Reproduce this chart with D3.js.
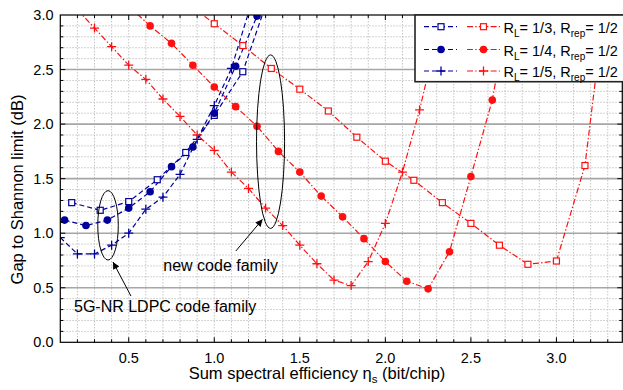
<!DOCTYPE html>
<html lang="en">
<head>
<meta charset="UTF-8">
<title>Gap to Shannon limit</title>
<script src="https://cdn.jsdelivr.net/npm/d3@7"></script>
<style>
    body { margin: 0; background: #fff; }
    #chart svg { display: block; font-family: "Liberation Sans", Arial, sans-serif; }
</style>
</head>
<body>
<div id="chart"></div>
<script>
    // 5G-NR LDPC code family (blue, dashed)
    const nrX13 = [0.1667, 0.3333, 0.5, 0.6667, 0.8333, 1.0, 1.1667, 1.3333];
    const nrY13 = [1.28, 1.21, 1.29, 1.49, 1.74, 2.08, 2.48, 3.24];
    const nrX14 = [0.125, 0.25, 0.375, 0.5, 0.625, 0.75, 0.875, 1.0, 1.125, 1.25, 1.375];
    const nrY14 = [1.12, 1.07, 1.12, 1.23, 1.38, 1.61, 1.79, 2.10, 2.53, 2.99, 3.6];
    const nrX15 = [0.1, 0.2, 0.3, 0.4, 0.5, 0.6, 0.7, 0.8, 0.9, 1.0, 1.1, 1.2, 1.3];
    const nrY15 = [0.96, 0.81, 0.81, 0.89, 1.00, 1.22, 1.33, 1.54, 1.86, 2.17, 2.51, 3.02, 3.8];

    // new code family (red, dash-dot)
    const newX13 = [0.8333, 1.0, 1.1667, 1.3333, 1.5, 1.6667, 1.8333, 2.0, 2.1667, 2.3333,
                    2.5, 2.6667, 2.8333, 3.0, 3.1667, 3.3333];
    const newY13 = [3.12, 2.92, 2.72, 2.51, 2.32, 2.12, 1.88, 1.66, 1.485, 1.28,
                    1.09, 0.89, 0.715, 0.745, 1.62, 3.75];
    const newX14 = [0.5, 0.625, 0.75, 0.875, 1.0, 1.125, 1.25, 1.375, 1.5, 1.625,
                    1.75, 1.875, 2.0, 2.125, 2.25, 2.375, 2.5, 2.625, 2.75];
    const newY14 = [3.08, 2.90, 2.74, 2.54, 2.34, 2.16, 1.98, 1.75, 1.56, 1.34,
                    1.15, 0.95, 0.74, 0.56, 0.49, 0.83, 1.52, 2.22, 3.3];
    const newX15 = [0.2, 0.3, 0.4, 0.5, 0.6, 0.7, 0.8, 0.9, 1.0, 1.1, 1.2, 1.3,
                    1.4, 1.5, 1.6, 1.7, 1.8, 1.9, 2.0, 2.1, 2.2, 2.3, 2.4];
    const newY15 = [3.05, 2.88, 2.71, 2.54, 2.41, 2.23, 2.07, 1.90, 1.76, 1.56, 1.41, 1.23,
                    1.07, 0.89, 0.72, 0.57, 0.52, 0.74, 1.09, 1.56, 2.13, 2.8, 3.6];

    const legendRates = [["1/3", "1/2"], ["1/4", "1/2"], ["1/5", "1/2"]];
    const xTicks = [0.5, 1.0, 1.5, 2.0, 2.5, 3.0];
    const yTicks = [0.0, 0.5, 1.0, 1.5, 2.0, 2.5, 3.0];

    const blue = "#00009c";
    const red = "#ff1010";
    const blueDash = "5,3";
    const redDash = "6,2.2,1.4,2.2";

    const series = [
        { xs: nrX13, ys: nrY13, color: blue, dash: blueDash, shape: "square" },
        { xs: nrX14, ys: nrY14, color: blue, dash: blueDash, shape: "circle" },
        { xs: nrX15, ys: nrY15, color: blue, dash: blueDash, shape: "plus" },
        { xs: newX13, ys: newY13, color: red, dash: redDash, shape: "square" },
        { xs: newX14, ys: newY14, color: red, dash: redDash, shape: "circle" },
        { xs: newX15, ys: newY15, color: red, dash: redDash, shape: "plus" }
    ];

    const width = 623;
    const height = 390;
    const svg = d3.select("#chart")
        .append("svg")
        .attr("width", width)
        .attr("height", height);

    const x = d3.scaleLinear().domain([0.1, 3.385]).range([60.3, 622.3]);
    const y = d3.scaleLinear().domain([0, 3]).range([342.3, 15]);
    const [x0, x1] = x.range();
    const [y0, y1] = y.range();

    svg.append("defs").append("clipPath")
        .attr("id", "plot")
        .append("rect")
        .attr("x", x0).attr("y", y1)
        .attr("width", x1 - x0).attr("height", y0 - y1);

    const arrowDef = svg.select("defs").append("marker")
        .attr("id", "arrow")
        .attr("viewBox", "0 0 10 10")
        .attr("refX", 10).attr("refY", 5)
        .attr("markerWidth", 9).attr("markerHeight", 7)
        .attr("markerUnits", "userSpaceOnUse")
        .attr("orient", "auto");
    arrowDef.append("path").attr("d", "M0,0L10,5L0,10z").attr("fill", "#000");

    // grid
    const minorX = d3.range(2, 34).map(i => i / 10);
    const minorY = d3.range(1, 30).map(i => i / 10);
    const grid = svg.append("g");
    grid.selectAll(".vx")
        .data(minorX)
        .join("line")
        .attr("x1", d => x(d)).attr("x2", d => x(d))
        .attr("y1", y1).attr("y2", y0)
        .attr("stroke", "#c4c4c4")
        .attr("stroke-dasharray", "1.5,1.5");
    grid.selectAll(".hy")
        .data(minorY.filter(d => Math.abs(d * 2 - Math.round(d * 2)) > 0.01))
        .join("line")
        .attr("x1", x0).attr("x2", x1)
        .attr("y1", d => y(d)).attr("y2", d => y(d))
        .attr("stroke", "#c4c4c4")
        .attr("stroke-dasharray", "1.5,1.5");
    grid.selectAll(".hmaj")
        .data([0.5, 1.0, 1.5, 2.0, 2.5])
        .join("line")
        .attr("x1", x0).attr("x2", x1)
        .attr("y1", d => y(d)).attr("y2", d => y(d))
        .attr("stroke", "#a6a6a6")
        .attr("stroke-width", 1.6);

    // curves
    const plot = svg.append("g").attr("clip-path", "url(#plot)");
    const line = d3.line().x(d => x(d[0])).y(d => y(d[1]));

    function drawMarker(g, shape, color, px, py) {
        if (shape === "square") {
            g.append("rect")
                .attr("x", px - 3).attr("y", py - 3)
                .attr("width", 6).attr("height", 6)
                .attr("fill", "#fff")
                .attr("stroke", color)
                .attr("stroke-width", 1.2);
        } else if (shape === "circle") {
            g.append("circle")
                .attr("cx", px).attr("cy", py)
                .attr("r", 3.8)
                .attr("fill", color);
        } else {
            g.append("path")
                .attr("d", `M${px - 4.5},${py}H${px + 4.5}M${px},${py - 4.5}V${py + 4.5}`)
                .attr("stroke", color)
                .attr("stroke-width", 1.3);
        }
    }

    series.forEach(s => {
        const pts = s.xs.map((v, i) => [v, s.ys[i]]);
        plot.append("path")
            .attr("d", line(pts))
            .attr("fill", "none")
            .attr("stroke", s.color)
            .attr("stroke-width", 1.2)
            .attr("stroke-dasharray", s.dash);
    });
    series.forEach(s => {
        const g = plot.append("g");
        s.xs.forEach((v, i) => drawMarker(g, s.shape, s.color, x(v), y(s.ys[i])));
    });

    // annotations
    const note = svg.append("g").attr("fill", "none").attr("stroke", "#000").attr("stroke-width", 1);
    [[0.379, 1.072, 0.060, 0.318], [1.329, 1.839, 0.082, 0.795]].forEach(e => {
        note.append("ellipse")
            .attr("cx", x(e[0])).attr("cy", y(e[1]))
            .attr("rx", x(e[0] + e[2]) - x(e[0]))
            .attr("ry", y(e[1] - e[3]) - y(e[1]));
    });
    [[1.126, 0.837, 1.282, 1.127], [0.513, 0.424, 0.408, 0.736]].forEach(a => {
        note.append("line")
            .attr("x1", x(a[0])).attr("y1", y(a[1]))
            .attr("x2", x(a[2])).attr("y2", y(a[3]))
            .attr("marker-end", "url(#arrow)");
    });
    svg.append("text")
        .attr("x", x(0.702)).attr("y", y(0.656))
        .attr("font-size", 16)
        .text("new code family");
    svg.append("text")
        .attr("x", x(0.18)).attr("y", y(0.275))
        .attr("font-size", 16)
        .text("5G-NR LDPC code family");

    // axes frame and ticks (inward)
    const axes = svg.append("g").attr("stroke", "#000");
    axes.append("rect")
        .attr("x", x0).attr("y", y1)
        .attr("width", x1 - x0).attr("height", y0 - y1)
        .attr("fill", "none")
        .attr("stroke-width", 1.2);
    const minorTickX = d3.range(2, 34).map(i => i / 10);
    const minorTickY = d3.range(1, 30).map(i => i / 10);
    minorTickX.forEach(v => {
        const len = xTicks.some(t => Math.abs(t - v) < 1e-6) ? 5 : 3;
        axes.append("line").attr("x1", x(v)).attr("x2", x(v)).attr("y1", y0).attr("y2", y0 - len);
        axes.append("line").attr("x1", x(v)).attr("x2", x(v)).attr("y1", y1).attr("y2", y1 + len);
    });
    minorTickY.forEach(v => {
        const len = yTicks.some(t => Math.abs(t - v) < 1e-6) ? 5 : 3;
        axes.append("line").attr("x1", x0).attr("x2", x0 + len).attr("y1", y(v)).attr("y2", y(v));
        axes.append("line").attr("x1", x1).attr("x2", x1 - len).attr("y1", y(v)).attr("y2", y(v));
    });

    svg.append("g")
        .selectAll("text")
        .data(xTicks)
        .join("text")
        .attr("x", d => x(d))
        .attr("y", 362.5)
        .attr("text-anchor", "middle")
        .attr("font-size", 14.5)
        .text(d => d.toFixed(1));
    svg.append("g")
        .selectAll("text")
        .data(yTicks)
        .join("text")
        .attr("x", 53.5)
        .attr("y", d => y(d) + 5)
        .attr("text-anchor", "end")
        .attr("font-size", 14.5)
        .text(d => d.toFixed(1));

    const xLabel = svg.append("text")
        .attr("x", 317).attr("y", 379)
        .attr("text-anchor", "middle")
        .attr("font-size", 16.5);
    xLabel.append("tspan").text("Sum spectral efficiency \u03B7");
    xLabel.append("tspan").attr("font-size", 11.5).attr("dy", 4).text("s");
    xLabel.append("tspan").attr("dy", -4).text(" (bit/chip)");

    svg.append("text")
        .attr("transform", "translate(23,189.5) rotate(-90)")
        .attr("text-anchor", "middle")
        .attr("font-size", 16.5)
        .text("Gap to Shannon limit (dB)");

    // legend
    const legend = svg.append("g");
    legend.append("rect")
        .attr("x", 415).attr("y", 15)
        .attr("width", 230).attr("height", 66.7)
        .attr("fill", "#fff")
        .attr("stroke", "#222")
        .attr("stroke-width", 1.6);
    const rowY = [26.7, 49.5, 71];
    const shapes = ["square", "circle", "plus"];
    legendRates.forEach((r, i) => {
        const ly = rowY[i];
        legend.append("line")
            .attr("x1", 424).attr("x2", 457).attr("y1", ly).attr("y2", ly)
            .attr("stroke", blue).attr("stroke-width", 1.2).attr("stroke-dasharray", blueDash);
        legend.append("line")
            .attr("x1", 467).attr("x2", 500).attr("y1", ly).attr("y2", ly)
            .attr("stroke", red).attr("stroke-width", 1.2).attr("stroke-dasharray", redDash);
        drawMarker(legend, shapes[i], blue, 441, ly);
        drawMarker(legend, shapes[i], red, 483.5, ly);
        const t = legend.append("text")
            .attr("x", 503.5).attr("y", ly + 6)
            .attr("font-size", 14.5);
        t.append("tspan").text("R");
        t.append("tspan").attr("font-size", 10).attr("dy", 4).text("L");
        t.append("tspan").attr("dy", -4).text("= " + r[0] + ", R");
        t.append("tspan").attr("font-size", 10).attr("dy", 4).text("rep");
        t.append("tspan").attr("dy", -4).text("= " + r[1]);
    });
</script>
</body>
</html>
